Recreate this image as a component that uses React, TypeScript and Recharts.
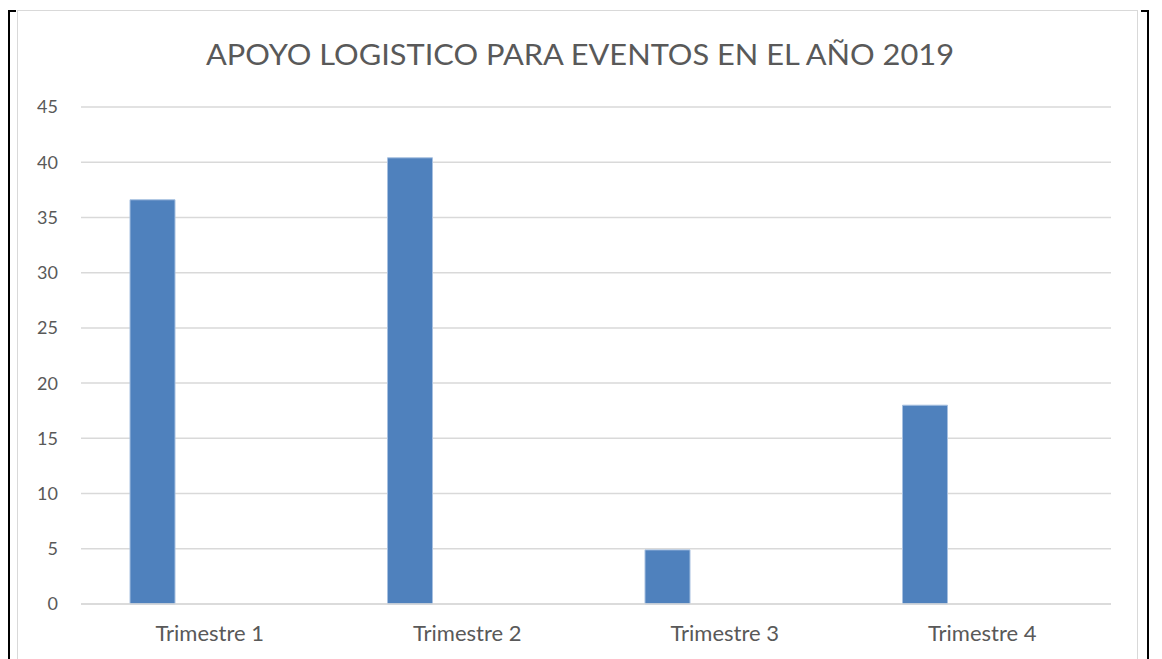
import { BarChart, Bar, XAxis, YAxis, CartesianGrid } from 'recharts';

const trimestres = ['Trimestre 1', 'Trimestre 2', 'Trimestre 3', 'Trimestre 4'];
const eventos = [36.6, 40.4, 4.9, 18];
// empty second series (Excel leaves a blank slot beside each bar)
const vacio = [null, null, null, null];
const yTicks = [0, 5, 10, 15, 20, 25, 30, 35, 40, 45];

const data = trimestres.map((t, i) => ({ name: t, eventos: eventos[i], vacio: vacio[i] }));

const FONT = 'Lato, "Open Sans", sans-serif';
const GRAY = '#595959';

export default function App() {
  return (
    <div
      style={{
        position: 'fixed',
        left: 0,
        top: 0,
        width: 1162,
        height: 659,
        background: '#fff',
        overflow: 'hidden',
      }}
    >
      {/* document frame lines */}
      <div style={{ position: 'absolute', left: 8, top: 10, width: 2, height: 660, background: '#000' }} />
      <div style={{ position: 'absolute', left: 8, top: 10, width: 8, height: 2, background: '#000' }} />
      <div style={{ position: 'absolute', left: 1147, top: 10, width: 2, height: 660, background: '#000' }} />
      <div style={{ position: 'absolute', left: 1141, top: 10, width: 8, height: 2, background: '#000' }} />

      <div
        style={{
          position: 'absolute',
          left: 17,
          top: 10,
          width: 1121,
          height: 660,
          border: '1px solid #d9d9d9',
          boxSizing: 'border-box',
        }}
      >
        <svg width={1121} height={70} style={{ position: 'absolute', left: 0, top: 0 }}>
          <text
            x={562}
            y={54}
            textAnchor="middle"
            fontFamily={FONT}
            fontSize={29}
            fontWeight={400}
            fill={GRAY}
            textLength={748}
            lengthAdjust="spacingAndGlyphs"
          >
            APOYO LOGISTICO PARA EVENTOS EN EL AÑO 2019
          </text>
        </svg>
        <BarChart
          width={1121}
          height={650}
          data={data}
          margin={{ top: 96, right: 28, left: 0, bottom: 0 }}
          barGap={0}
          style={{ position: 'absolute', left: 0, top: 0 }}
        >
          <CartesianGrid vertical={false} stroke="#d9d9d9" strokeWidth={1.5} />
          <XAxis
            dataKey="name"
            axisLine={{ stroke: '#d9d9d9', strokeWidth: 1.5 }}
            tickLine={false}
            tickSize={0}
            tickMargin={21}
            height={57}
            tick={{ fill: GRAY, fontSize: 22, fontFamily: FONT }}
          />
          <YAxis
            domain={[0, 45]}
            ticks={yTicks}
            interval={0}
            width={63}
            axisLine={false}
            tickLine={false}
            tickSize={0}
            tickMargin={23}
            tick={{ fill: GRAY, fontSize: 18, fontFamily: FONT }}
          />
          <Bar
            dataKey="eventos"
            fill="#4f81bd"
            stroke="#a7c0e0"
            strokeWidth={1}
            barSize={45}
            isAnimationActive={false}
          />
          <Bar dataKey="vacio" fill="none" barSize={114} isAnimationActive={false} />
        </BarChart>
      </div>
    </div>
  );
}
